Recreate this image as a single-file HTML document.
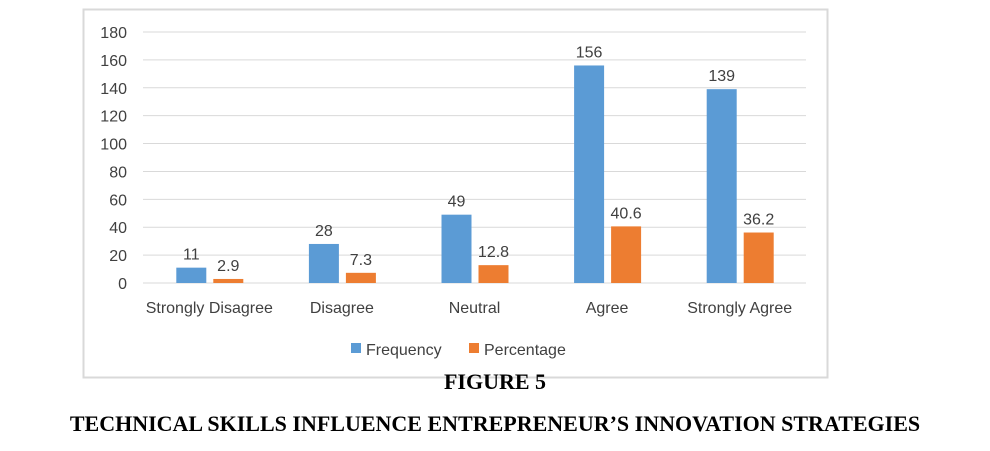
<!DOCTYPE html>
<html><head><meta charset="utf-8"><style>
body{margin:0;background:#fff;width:990px;height:451px;overflow:hidden;position:relative;font-family:"Liberation Sans",sans-serif}
.t{position:absolute;left:0;width:990px;text-align:center;font-family:"Liberation Serif",serif;font-weight:bold;font-size:22px;color:#000}
</style></head><body>
<svg width="990" height="380" style="position:absolute;left:0;top:0" font-family="Liberation Sans, sans-serif">
<rect x="83.5" y="9.5" width="744" height="368" fill="#fff" stroke="#d9d9d9" stroke-width="2"/>
<g id="grid"></g><g id="bars"></g>
<g font-size="16" fill="#404040">
<rect x="351" y="343" width="10" height="10" fill="#5b9bd5"/>
<text x="366" y="355">Frequency</text>
<rect x="469" y="343" width="10" height="10" fill="#ed7d31"/>
<text x="484" y="355">Percentage</text>
</g>
</svg>
<div class="t" style="top:369px">FIGURE 5</div>
<div class="t" style="top:411px">TECHNICAL SKILLS INFLUENCE ENTREPRENEUR’S INNOVATION STRATEGIES</div>
<script>
const categories=["Strongly Disagree","Disagree","Neutral","Agree","Strongly Agree"];
const frequency=[11,28,49,156,139];
const percentage=[2.9,7.3,12.8,40.6,36.2];
const ticks=[0,20,40,60,80,100,120,140,160,180];
const NS="http://www.w3.org/2000/svg";
const L=143,R=806,T=32,B=283,MAX=180;
const y=v=>B-(v/MAX)*(B-T);
const step=(R-L)/categories.length;
const x=i=>L+step*i+step/2;
function mk(tag,at,p,txt){const e=document.createElementNS(NS,tag);for(const k in at)e.setAttribute(k,at[k]);if(txt!==undefined)e.textContent=txt;p.appendChild(e);return e;}
const g=document.getElementById('grid'),b=document.getElementById('bars');
ticks.forEach(t=>{
 const l=mk('line',{x1:L,x2:R,y1:y(t),y2:y(t),stroke:'#d9d9d9','stroke-width':1},g);
 
 
 const tx=mk('text',{x:127,y:y(t)+6,'text-anchor':'end','font-size':16,fill:'#404040'},g,String(t));
 
 
});
categories.forEach((c,i)=>{
 const cx=x(i);
 const r1=mk('rect',{x:cx-33,y:y(frequency[i]),width:30,height:B-y(frequency[i]),fill:'#5b9bd5'},b);
 
 
 const r2=mk('rect',{x:cx+4,y:y(percentage[i]),width:30,height:B-y(percentage[i]),fill:'#ed7d31'},b);
 
 
 const l1=mk('text',{x:cx-18,y:y(frequency[i])-8,'text-anchor':'middle','font-size':16,fill:'#404040'},b,String(frequency[i]));
 
 
 const l2=mk('text',{x:cx+19,y:y(percentage[i])-8,'text-anchor':'middle','font-size':16,fill:'#404040'},b,String(percentage[i]));
 
 
 const cl=mk('text',{x:cx,y:313,'text-anchor':'middle','font-size':16,fill:'#404040'},b,c);
 
 
});
</script>
</body></html>
